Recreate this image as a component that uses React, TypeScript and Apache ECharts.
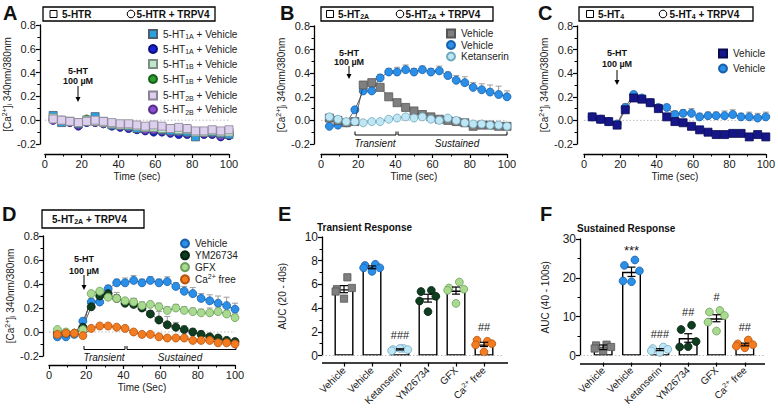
import React, { useEffect, useRef } from 'react';
import * as echarts from 'echarts';

const FONT = '"Liberation Sans", Arial, Helvetica, sans-serif';

// ---------------- DATA ----------------
const TIME = [4.5, 9.1, 13.6, 18.2, 22.7, 27.3, 31.8, 36.4, 40.9, 45.5, 50, 54.5, 59.1, 63.6, 68.2, 72.7, 77.3, 81.8, 86.4, 90.9, 95.5, 100];
const TIME_RANGE = [0, 100];

// Panel A
const A_1A_SQ = [0.04, -0.02, -0.01, -0.03, 0.0, 0.03, -0.01, -0.04, -0.04, -0.05, -0.07, -0.06, -0.06, -0.08, -0.09, -0.09, -0.10, -0.14, -0.10, -0.10, -0.11, -0.12];
const A_1A_CI = [0.0, -0.01, -0.02, -0.05, -0.02, -0.02, -0.03, -0.05, -0.06, -0.07, -0.08, -0.09, -0.10, -0.10, -0.11, -0.12, -0.12, -0.13, -0.12, -0.12, -0.14, -0.13];
const A_1B_SQ = [0.02, 0.0, -0.01, -0.02, 0.0, -0.01, -0.02, -0.03, -0.04, -0.04, -0.05, -0.06, -0.06, -0.07, -0.07, -0.08, -0.08, -0.10, -0.10, -0.09, -0.10, -0.10];
const A_1B_CI = [0.01, 0.0, -0.01, -0.03, 0.01, -0.01, -0.02, -0.03, -0.04, -0.05, -0.06, -0.07, -0.08, -0.08, -0.09, -0.09, -0.07, -0.11, -0.10, -0.10, -0.11, -0.10];
const A_2B_SQ = [0.01, 0.0, -0.01, -0.02, -0.01, 0.0, -0.01, -0.02, -0.03, -0.03, -0.04, -0.05, -0.04, -0.05, -0.07, -0.06, -0.07, -0.09, -0.09, -0.08, -0.09, -0.08];
const A_2B_CI = [0.0, -0.01, -0.02, -0.04, -0.01, -0.02, -0.03, -0.04, -0.05, -0.06, -0.07, -0.08, -0.08, -0.09, -0.10, -0.10, -0.11, -0.12, -0.11, -0.11, -0.13, -0.12];

// Panel B
const B_VEH_SQ = [0.02, 0.0, -0.02, -0.01, 0.30, 0.32, 0.28, 0.20, 0.15, 0.11, 0.08, 0.05, 0.03, 0.01, 0.0, -0.01, -0.02, -0.05, -0.04, -0.04, -0.05, -0.05];
const B_VEH_SQ_ERR = [0.01, 0.01, 0.01, 0.01, 0.02, 0.02, 0.02, 0.02, 0.01, 0.01, 0.01, 0.01, 0.01, 0.01, 0.01, 0.01, 0.01, 0.01, 0.01, 0.01, 0.01, 0.01];
const B_VEH_CI = [-0.05, -0.04, -0.02, 0.09, 0.25, 0.25, 0.36, 0.41, 0.41, 0.43, 0.41, 0.43, 0.41, 0.42, 0.38, 0.34, 0.32, 0.28, 0.26, 0.24, 0.22, 0.20];
const B_VEH_CI_ERR = [0.01, 0.01, 0.01, 0.02, 0.03, 0.03, 0.03, 0.03, 0.04, 0.04, 0.03, 0.03, 0.03, 0.04, 0.03, 0.04, 0.05, 0.04, 0.05, 0.06, 0.07, 0.05];
const B_KET = [0.03, 0.01, -0.01, -0.01, -0.02, -0.01, -0.01, 0.01, 0.02, 0.03, 0.02, 0.03, 0.01, 0.0, 0.02, 0.0, -0.02, -0.03, -0.03, -0.04, -0.04, -0.05];

// Panel C
const C_VEH_SQ = [0.03, 0.01, -0.01, -0.04, 0.09, 0.19, 0.18, 0.15, 0.10, 0.03, -0.01, -0.02, -0.05, -0.08, -0.10, -0.12, -0.12, -0.11, -0.11, -0.14, -0.12, -0.14];
const C_VEH_SQ_ERR = [0.01, 0.01, 0.01, 0.01, 0.03, 0.02, 0.01, 0.01, 0.01, 0.01, 0.01, 0.01, 0.01, 0.01, 0.01, 0.01, 0.01, 0.01, 0.01, 0.01, 0.01, 0.01];
const C_VEH_CI = [0.03, 0.01, -0.01, -0.03, 0.11, 0.22, 0.19, 0.15, 0.11, 0.11, 0.05, 0.06, 0.06, 0.03, 0.04, 0.04, 0.04, 0.05, 0.03, 0.03, 0.02, 0.03];
const C_VEH_CI_ERR = [0.01, 0.01, 0.01, 0.01, 0.03, 0.02, 0.01, 0.01, 0.01, 0.02, 0.03, 0.03, 0.04, 0.03, 0.03, 0.03, 0.04, 0.04, 0.03, 0.04, 0.04, 0.04];

// Panel D
const D_VEH = [-0.04, -0.04, -0.02, 0.09, 0.25, 0.25, 0.36, 0.41, 0.41, 0.43, 0.41, 0.43, 0.41, 0.42, 0.38, 0.34, 0.32, 0.28, 0.26, 0.24, 0.22, 0.19];
const D_VEH_ERR = [0.01, 0.01, 0.01, 0.02, 0.03, 0.03, 0.03, 0.03, 0.04, 0.04, 0.03, 0.03, 0.03, 0.04, 0.03, 0.04, 0.05, 0.04, 0.05, 0.06, 0.07, 0.05];
const D_YM = [-0.01, -0.01, -0.01, 0.04, 0.21, 0.30, 0.32, 0.28, 0.24, 0.23, 0.20, 0.15, 0.10, 0.06, 0.04, 0.02, 0.0, -0.02, -0.04, -0.05, -0.07, -0.08];
const D_YM_ERR = [0.01, 0.01, 0.01, 0.02, 0.02, 0.02, 0.03, 0.05, 0.03, 0.05, 0.04, 0.03, 0.07, 0.07, 0.04, 0.03, 0.03, 0.03, 0.02, 0.02, 0.02, 0.02];
const D_GFX = [0.02, 0.0, -0.01, 0.02, 0.32, 0.34, 0.29, 0.28, 0.26, 0.25, 0.22, 0.23, 0.21, 0.18, 0.20, 0.18, 0.17, 0.16, 0.16, 0.17, 0.15, 0.12];
const D_GFX_ERR = [0.01, 0.01, 0.01, 0.01, 0.02, 0.02, 0.03, 0.03, 0.02, 0.03, 0.03, 0.02, 0.03, 0.03, 0.03, 0.03, 0.03, 0.03, 0.04, 0.03, 0.03, 0.03];
const D_CA = [-0.02, -0.01, -0.01, -0.03, 0.03, 0.05, 0.05, 0.04, 0.03, 0.0, -0.02, -0.02, -0.04, -0.05, -0.05, -0.05, -0.07, -0.07, -0.07, -0.09, -0.09, -0.10];
const D_CA_ERR = [0.01, 0.01, 0.01, 0.01, 0.01, 0.01, 0.01, 0.01, 0.01, 0.01, 0.01, 0.01, 0.01, 0.01, 0.01, 0.01, 0.01, 0.01, 0.01, 0.01, 0.01, 0.01];

// Panels E and F
const CATS = ['Vehicle', 'Vehicle', 'Ketanserin', 'YM26734', 'GFX', 'Ca2+ free'];
const E_MEAN = [5.6, 7.44, 0.52, 4.84, 5.48, 0.94];
const E_SEM = [0.3, 0.12, 0.05, 0.33, 0.3, 0.18];
const E_PTS = [
  [6.6, 5.6, 5.7, 5.4, 4.8],
  [7.7, 7.6, 7.4, 7.4, 7.1],
  [0.6, 0.5, 0.5, 0.4, 0.6],
  [5.5, 5.4, 5.0, 4.6, 3.7],
  [6.2, 5.7, 5.6, 5.5, 4.4],
  [1.2, 1.3, 1.0, 0.9, 0.3],
];
const E_SIG = ['', '', '###', '', '', '##'];
const F_MEAN = [2.12, 21.56, 1.52, 4.52, 9.6, 2.84];
const F_SEM = [0.6, 1.2, 0.25, 1.1, 0.9, 0.35];
const F_PTS = [
  [2.8, 2.6, 2.2, 1.8, 1.2],
  [24.6, 23.2, 21.8, 19.2, 19.0],
  [2.2, 1.8, 1.6, 1.2, 0.8],
  [7.8, 6.7, 3.6, 2.2, 2.3],
  [11.6, 11.2, 10.3, 8.6, 6.3],
  [4.0, 3.0, 2.8, 2.4, 2.0],
];
const F_SIG = ['', '***', '###', '##', '#', '##'];

// ---------------- LAYOUT / STYLE ----------------
const GRIDS = [
  { left: 43, top: 25, width: 186, height: 119 },
  { left: 321, top: 26, width: 186, height: 118 },
  { left: 584, top: 26, width: 184, height: 118 },
  { left: 49, top: 236, width: 186, height: 120 },
  { left: 330, top: 237, width: 168, height: 119 },
  { left: 589, top: 239, width: 170, height: 118 },
];
const Y_OFFSET = [5, 7, 7, 6, 8, 9];
const X_OFFSET = [10, 10, 10, 9, 7, 7];
const Y_NAME_GAP = [24, 23, 24, 27, 35, 30];
const JITTER = [0.12, -0.25, 0.28, -0.3, 0.0];
const DOT_FILL = ['#7f7f7f', '#2a8fe8', '#bfe6f5', '#0f3d1f', '#a8da90', '#f47c20'];
const DOT_STROKE = ['#555555', '#1a5fa8', '#6fa9bf', '#06200f', '#6e9e5a', '#b8520c'];
const ZERO_COLOR = '#bdbdbd';

const LEG_LABEL: Record<string, string> = {
  a1aSq: '5-HT{sub|1A} + Vehicle',
  a1aCi: '5-HT{sub|1A} + Vehicle',
  a1bSq: '5-HT{sub|1B} + Vehicle',
  a1bCi: '5-HT{sub|1B} + Vehicle',
  a2bSq: '5-HT{sub|2B} + Vehicle',
  a2bCi: '5-HT{sub|2B} + Vehicle',
  bSq: 'Vehicle',
  bCi: 'Vehicle',
  bKet: 'Ketanserin',
  cSq: 'Vehicle',
  cCi: 'Vehicle',
  dVeh: 'Vehicle',
  dYm: 'YM26734',
  dGfx: 'GFX',
  dCa: 'Ca{sup|2+} free',
};

const richSmall = (weight: string = 'normal') => ({
  sub: { fontSize: 7, fontFamily: FONT, fontWeight: weight, verticalAlign: 'bottom', lineHeight: 12, padding: [3, 0, 0, 0] },
  sup: { fontSize: 7, fontFamily: FONT, fontWeight: weight, verticalAlign: 'top', lineHeight: 12 },
});

function lineSeries(name: string, g: number, vals: number[], sym: string, fill: string, stroke: string, z = 3) {
  return {
    type: 'line',
    name,
    xAxisIndex: g,
    yAxisIndex: g,
    data: TIME.map((t, i) => [t, vals[i]]),
    symbol: sym,
    symbolSize: 8,
    showSymbol: true,
    silent: true,
    lineStyle: { color: '#3a3a3a', width: 0.8 },
    itemStyle: { color: fill, borderColor: stroke, borderWidth: 0.8 },
    z,
  };
}

function errSeries(g: number, vals: number[], errs: number[], color = '#9c9c9c') {
  return {
    type: 'custom',
    xAxisIndex: g,
    yAxisIndex: g,
    z: 1,
    silent: true,
    data: TIME.map((t, i) => [t, vals[i], errs[i]]),
    renderItem: (params: any, api: any) => {
      const x = api.value(0);
      const y = api.value(1);
      const e = api.value(2);
      const p0 = api.coord([x, y]);
      const p1 = api.coord([x, y + e]);
      return {
        type: 'group',
        children: [
          { type: 'line', shape: { x1: p0[0], y1: p0[1], x2: p1[0], y2: p1[1] }, style: { stroke: color, lineWidth: 1 } },
          { type: 'line', shape: { x1: p1[0] - 3, y1: p1[1], x2: p1[0] + 3, y2: p1[1] }, style: { stroke: color, lineWidth: 1 } },
        ],
      };
    },
  };
}

// baseline y = 0 spanning the time axis
function zeroLine(g: number) {
  return {
    type: 'line',
    xAxisIndex: g,
    yAxisIndex: g,
    data: TIME_RANGE.map((t) => [t, 0]),
    z: 0,
    silent: true,
    symbol: 'none',
    showSymbol: false,
    lineStyle: { color: ZERO_COLOR, type: [1.5, 2], width: 1 },
  };
}

const axisLineStyle = { show: true, onZero: false, lineStyle: { color: '#000', width: 1.3 } };
const tickStyle = { show: true, length: 4, lineStyle: { color: '#000', width: 1.2 } };
const minorStyle = { show: true, splitNumber: 2, length: 2.5, lineStyle: { color: '#000', width: 1 } };

function lineXAxis(g: number, name: string) {
  return {
    type: 'value',
    gridIndex: g,
    min: 0,
    max: 100,
    interval: 20,
    offset: X_OFFSET[g],
    axisLine: axisLineStyle,
    axisTick: tickStyle,
    minorTick: minorStyle,
    splitLine: { show: false },
    axisLabel: { fontSize: 11, color: '#1a1a1a', fontFamily: FONT, margin: 4 },
    name,
    nameLocation: 'middle',
    nameGap: 17,
    nameTextStyle: { fontSize: 10, color: '#1a1a1a', fontFamily: FONT },
  };
}

function lineYAxis(g: number) {
  return {
    type: 'value',
    gridIndex: g,
    min: -0.2,
    max: 0.8,
    interval: 0.2,
    offset: Y_OFFSET[g],
    axisLine: axisLineStyle,
    axisTick: tickStyle,
    minorTick: minorStyle,
    splitLine: { show: false },
    axisLabel: {
      fontSize: 11,
      color: '#1a1a1a',
      fontFamily: FONT,
      margin: 4,
      formatter: (v: number) => (Math.abs(v) < 1e-9 ? 0 : v).toFixed(1),
    },
    name: '[Ca{sup|2+}]{sub|i} 340nm/380nm',
    nameLocation: 'middle',
    nameGap: Y_NAME_GAP[g],
    nameTextStyle: { fontSize: 10, color: '#1a1a1a', fontFamily: FONT, rich: richSmall() },
  };
}

function barXAxis(g: number) {
  return {
    type: 'category',
    gridIndex: g,
    data: CATS,
    offset: X_OFFSET[g],
    axisLine: { show: false, onZero: false },
    axisTick: { show: true, alignWithLabel: true, length: 4, lineStyle: { color: '#000', width: 1.2 } },
    axisLabel: {
      interval: 0,
      rotate: 45,
      fontSize: 10,
      color: '#1a1a1a',
      fontFamily: FONT,
      margin: 6,
      formatter: (v: string) => (v === 'Ca2+ free' ? 'Ca{sup|2+} free' : v),
      rich: richSmall(),
    },
  };
}

function barYAxis(g: number, max: number, interval: number, name: string) {
  return {
    type: 'value',
    gridIndex: g,
    min: 0,
    max,
    interval,
    offset: Y_OFFSET[g],
    axisLine: axisLineStyle,
    axisTick: tickStyle,
    minorTick: minorStyle,
    splitLine: { show: false },
    axisLabel: { fontSize: 12, color: '#1a1a1a', fontFamily: FONT, margin: 4 },
    name,
    nameLocation: 'middle',
    nameGap: Y_NAME_GAP[g],
    nameTextStyle: { fontSize: 10, color: '#1a1a1a', fontFamily: FONT },
  };
}

function barSeries(g: number, means: number[], sems: number[], pts: number[][], sig: string[]) {
  const dots: number[][] = [];
  pts.forEach((arr, i) => arr.forEach((v, j) => dots.push([i, v, j])));
  return [
    {
      type: 'bar',
      xAxisIndex: g,
      yAxisIndex: g,
      data: means,
      barWidth: 19,
      silent: true,
      itemStyle: { color: '#ffffff', borderColor: '#000', borderWidth: 1.4 },
      z: 2,
      markLine: {
        silent: true,
        symbol: 'none',
        label: { show: false },
        lineStyle: { color: ZERO_COLOR, type: [1.5, 2], width: 1 },
        data: [[{ yAxis: 0, x: GRIDS[g].left - Y_OFFSET[g] }, { yAxis: 0, x: GRIDS[g].left + GRIDS[g].width + 6 }]],
      },
    },
    {
      type: 'custom',
      xAxisIndex: g,
      yAxisIndex: g,
      silent: true,
      z: 3,
      data: dots,
      renderItem: (params: any, api: any) => {
        const cat = api.value(0);
        const j = api.value(2);
        const c = api.coord([cat, api.value(1)]);
        const bw = api.size([1, 0])[0];
        const cx = c[0] + JITTER[j] * bw;
        const style = { fill: DOT_FILL[cat], stroke: DOT_STROKE[cat], lineWidth: 0.8 };
        if (cat === 0) {
          return { type: 'rect', shape: { x: cx - 3.6, y: c[1] - 3.6, width: 7.2, height: 7.2 }, style };
        }
        return { type: 'circle', shape: { cx, cy: c[1], r: 3.9 }, style };
      },
    },
    {
      type: 'custom',
      xAxisIndex: g,
      yAxisIndex: g,
      silent: true,
      z: 4,
      data: means.map((m, i) => [i, m, sems[i]]),
      renderItem: (params: any, api: any) => {
        const i = api.value(0);
        const m = api.value(1);
        const s = api.value(2);
        const hi = api.coord([i, m + s]);
        const lo = api.coord([i, m - s]);
        const st = { stroke: '#000', lineWidth: 1.2 };
        return {
          type: 'group',
          children: [
            { type: 'line', shape: { x1: hi[0], y1: hi[1], x2: lo[0], y2: lo[1] }, style: st },
            { type: 'line', shape: { x1: hi[0] - 4, y1: hi[1], x2: hi[0] + 4, y2: hi[1] }, style: st },
            { type: 'line', shape: { x1: lo[0] - 4, y1: lo[1], x2: lo[0] + 4, y2: lo[1] }, style: st },
          ],
        };
      },
    },
    {
      type: 'custom',
      xAxisIndex: g,
      yAxisIndex: g,
      silent: true,
      z: 5,
      data: pts.map((arr, i) => [i, Math.max(...arr)]),
      renderItem: (params: any, api: any) => {
        const s = sig[params.dataIndex];
        if (!s) return null;
        const c = api.coord([api.value(0), api.value(1)]);
        const star = s.indexOf('*') >= 0;
        return {
          type: 'text',
          x: c[0],
          y: c[1] - (star ? 9 : 13),
          style: { text: s, fontSize: star ? 13 : 11, fontFamily: FONT, fill: '#1a1a1a', align: 'center', verticalAlign: 'middle' },
        };
      },
    },
  ];
}

// graphic helpers
function txt(x: number, y: number, text: string, size: number, weight = 'normal', align = 'left', style = 'normal', rich?: any) {
  return {
    type: 'text',
    x,
    y,
    silent: true,
    style: { text, fontSize: size, fontWeight: weight, fontStyle: style, fontFamily: FONT, fill: '#111', align, verticalAlign: 'middle', rich },
  };
}
function ln(x1: number, y1: number, x2: number, y2: number, w = 1) {
  return { type: 'line', silent: true, shape: { x1, y1, x2, y2 }, style: { stroke: '#000', lineWidth: w } };
}
function arrow(x: number, yText: number, yText2: number, y1: number, y2: number) {
  return [
    txt(x, yText, '5-HT', 9, 'bold', 'center'),
    txt(x, yText2, '100 µM', 9, 'bold', 'center'),
    ln(x, y1, x, y2 - 3, 1),
    { type: 'polygon', silent: true, shape: { points: [[x - 2.5, y2 - 5], [x + 2.5, y2 - 5], [x, y2]] }, style: { fill: '#000' } },
  ];
}
function bracket(y: number, x1: number, xm: number, x2: number, tx1: number, tx2: number, ty: number) {
  return [
    { type: 'polyline', silent: true, shape: { points: [[x1, y - 3.5], [x1, y], [xm - 1, y], [xm - 1, y - 3.5]] }, style: { stroke: '#000', lineWidth: 1, fill: 'none' } },
    { type: 'polyline', silent: true, shape: { points: [[xm + 1, y - 3.5], [xm + 1, y], [x2, y], [x2, y - 3.5]] }, style: { stroke: '#000', lineWidth: 1, fill: 'none' } },
    txt(tx1, ty, 'Transient', 10, 'normal', 'center', 'italic'),
    txt(tx2, ty, 'Sustained', 10, 'normal', 'center', 'italic'),
  ];
}
function boxRect(x: number, y: number, w: number, h: number) {
  return { type: 'rect', silent: true, shape: { x, y, width: w, height: h }, style: { fill: '#fff', stroke: '#000', lineWidth: 1.3 } };
}
function sqIcon(x: number, y: number) {
  return { type: 'rect', silent: true, shape: { x: x - 3.5, y: y - 3.5, width: 7, height: 7 }, style: { fill: '#fff', stroke: '#000', lineWidth: 1 } };
}
function ciIcon(x: number, y: number) {
  return { type: 'circle', silent: true, shape: { cx: x, cy: y, r: 3.8 }, style: { fill: '#fff', stroke: '#000', lineWidth: 1 } };
}

function buildOption() {
  const legendCommon = {
    orient: 'vertical',
    selectedMode: false,
    itemWidth: 10,
    itemHeight: 10,
    padding: 0,
    lineStyle: { width: 0, opacity: 0 },
    textStyle: { fontSize: 10, color: '#222', fontFamily: FONT, lineHeight: 11, rich: richSmall() },
    formatter: (n: string) => LEG_LABEL[n] || n,
  };

  const series: any[] = [
    zeroLine(0), zeroLine(1), zeroLine(2), zeroLine(3),
    // A
    lineSeries('a1aCi', 0, A_1A_CI, 'circle', '#1a22d6', '#0b107a'),
    lineSeries('a1bCi', 0, A_1B_CI, 'circle', '#2e9e2e', '#16601a'),
    lineSeries('a2bCi', 0, A_2B_CI, 'circle', '#8a4fd0', '#54308a'),
    lineSeries('a1aSq', 0, A_1A_SQ, 'rect', '#2aa0e2', '#4a6070', 4),
    lineSeries('a1bSq', 0, A_1B_SQ, 'rect', '#bfe8cd', '#7c8f80', 4),
    lineSeries('a2bSq', 0, A_2B_SQ, 'rect', '#ddd0ee', '#8a8494', 4),
    // B
    errSeries(1, B_VEH_CI, B_VEH_CI_ERR),
    errSeries(1, B_VEH_SQ, B_VEH_SQ_ERR),
    lineSeries('bCi', 1, B_VEH_CI, 'circle', '#2a8fe8', '#1a5fa8'),
    lineSeries('bSq', 1, B_VEH_SQ, 'rect', '#7f7f7f', '#555555', 4),
    lineSeries('bKet', 1, B_KET, 'circle', '#bfe6f5', '#6fa9bf', 4),
    // C
    errSeries(2, C_VEH_CI, C_VEH_CI_ERR),
    errSeries(2, C_VEH_SQ, C_VEH_SQ_ERR),
    lineSeries('cCi', 2, C_VEH_CI, 'circle', '#2a8fe8', '#1a5fa8'),
    lineSeries('cSq', 2, C_VEH_SQ, 'rect', '#16168a', '#0a0a50', 4),
    // D
    errSeries(3, D_VEH, D_VEH_ERR),
    errSeries(3, D_YM, D_YM_ERR),
    errSeries(3, D_GFX, D_GFX_ERR),
    errSeries(3, D_CA, D_CA_ERR),
    lineSeries('dVeh', 3, D_VEH, 'circle', '#2a8fe8', '#1a5fa8'),
    lineSeries('dYm', 3, D_YM, 'circle', '#0f3d1f', '#06200f'),
    lineSeries('dGfx', 3, D_GFX, 'circle', '#a8da90', '#6e9e5a'),
    lineSeries('dCa', 3, D_CA, 'circle', '#f47c20', '#b8520c'),
    // E, F
    ...barSeries(4, E_MEAN, E_SEM, E_PTS, E_SIG),
    ...barSeries(5, F_MEAN, F_SEM, F_PTS, F_SIG),
  ];

  const graphic: any[] = [
    // panel letters
    txt(3, 13, 'A', 20, 'bold'),
    txt(280, 13, 'B', 20, 'bold'),
    txt(538, 13, 'C', 20, 'bold'),
    txt(2, 214, 'D', 20, 'bold'),
    txt(278, 214, 'E', 20, 'bold'),
    txt(540, 214, 'F', 20, 'bold'),
    // header boxes
    boxRect(43, 7, 172, 14),
    sqIcon(53.5, 14),
    txt(62, 14, '5-HTR', 10, 'bold'),
    ciIcon(131, 14),
    txt(136.5, 14, '5-HTR + TRPV4', 10, 'bold'),
    boxRect(321, 7, 172, 14),
    sqIcon(330, 14),
    txt(338, 14, '5-HT{sub|2A}', 10, 'bold', 'left', 'normal', richSmall('bold')),
    ciIcon(400, 14),
    txt(405.5, 14, '5-HT{sub|2A} + TRPV4', 10, 'bold', 'left', 'normal', richSmall('bold')),
    boxRect(579, 7, 174, 14),
    sqIcon(590, 14),
    txt(598, 14, '5-HT{sub|4}', 10, 'bold', 'left', 'normal', richSmall('bold')),
    ciIcon(663, 14),
    txt(669.5, 14, '5-HT{sub|4} + TRPV4', 10, 'bold', 'left', 'normal', richSmall('bold')),
    boxRect(42, 210, 102, 18),
    txt(52, 219, '5-HT{sub|2A} + TRPV4', 10, 'bold', 'left', 'normal', richSmall('bold')),
    // bar titles
    txt(317, 227, 'Transient Response', 10, 'bold'),
    txt(577, 228, 'Sustained Response', 10, 'bold'),
    // bar panel x-axis lines
    ln(322, 363, 508, 363, 1.3),
    ln(580, 364, 765, 364, 1.3),
    // stimulus arrows
    ...arrow(78, 71, 81, 86, 102),
    ...arrow(349, 53, 62, 66, 79),
    ...arrow(617, 53, 64, 70, 85),
    ...arrow(84, 259, 271, 275, 290),
    // brackets
    ...bracket(135, 355, 397, 507, 375, 457, 143),
    ...bracket(349.5, 84, 126, 236, 104, 180, 357),
  ];

  return {
    animation: false,
    backgroundColor: '#ffffff',
    textStyle: { fontFamily: FONT },
    grid: GRIDS.map((g) => ({ ...g, containLabel: false })),
    xAxis: [
      lineXAxis(0, 'Time (sec)'),
      lineXAxis(1, 'Time (sec)'),
      lineXAxis(2, 'Time (sec)'),
      lineXAxis(3, 'Time (Sec)'),
      barXAxis(4),
      barXAxis(5),
    ],
    yAxis: [
      lineYAxis(0),
      lineYAxis(1),
      lineYAxis(2),
      lineYAxis(3),
      barYAxis(4, 10, 2, 'AUC (20 - 40s)'),
      barYAxis(5, 30, 10, 'AUC (40 - 100s)'),
    ],
    legend: [
      { ...legendCommon, left: 148, top: 28, itemGap: 3, data: ['a1aSq', 'a1aCi'] },
      { ...legendCommon, left: 148, top: 58, itemGap: 3, data: ['a1bSq', 'a1bCi'] },
      { ...legendCommon, left: 148, top: 89.5, itemGap: 2, data: ['a2bSq', 'a2bCi'] },
      { ...legendCommon, left: 446, top: 28, itemGap: 0.5, data: ['bSq', 'bCi', 'bKet'] },
      { ...legendCommon, left: 718, top: 48, itemGap: 4, data: ['cSq', 'cCi'] },
      { ...legendCommon, left: 180, top: 238, itemGap: 0.8, data: ['dVeh', 'dYm', 'dGfx', 'dCa'] },
    ],
    series,
    graphic,
  };
}

export default function App() {
  const ref = useRef<HTMLDivElement>(null);
  useEffect(() => {
    document.body.style.margin = '0';
    if (!ref.current) return;
    const chart = echarts.init(ref.current, null, { renderer: 'svg' });
    chart.setOption(buildOption() as any);
    return () => chart.dispose();
  }, []);
  return <div ref={ref} style={{ width: 778, height: 408 }} />;
}
